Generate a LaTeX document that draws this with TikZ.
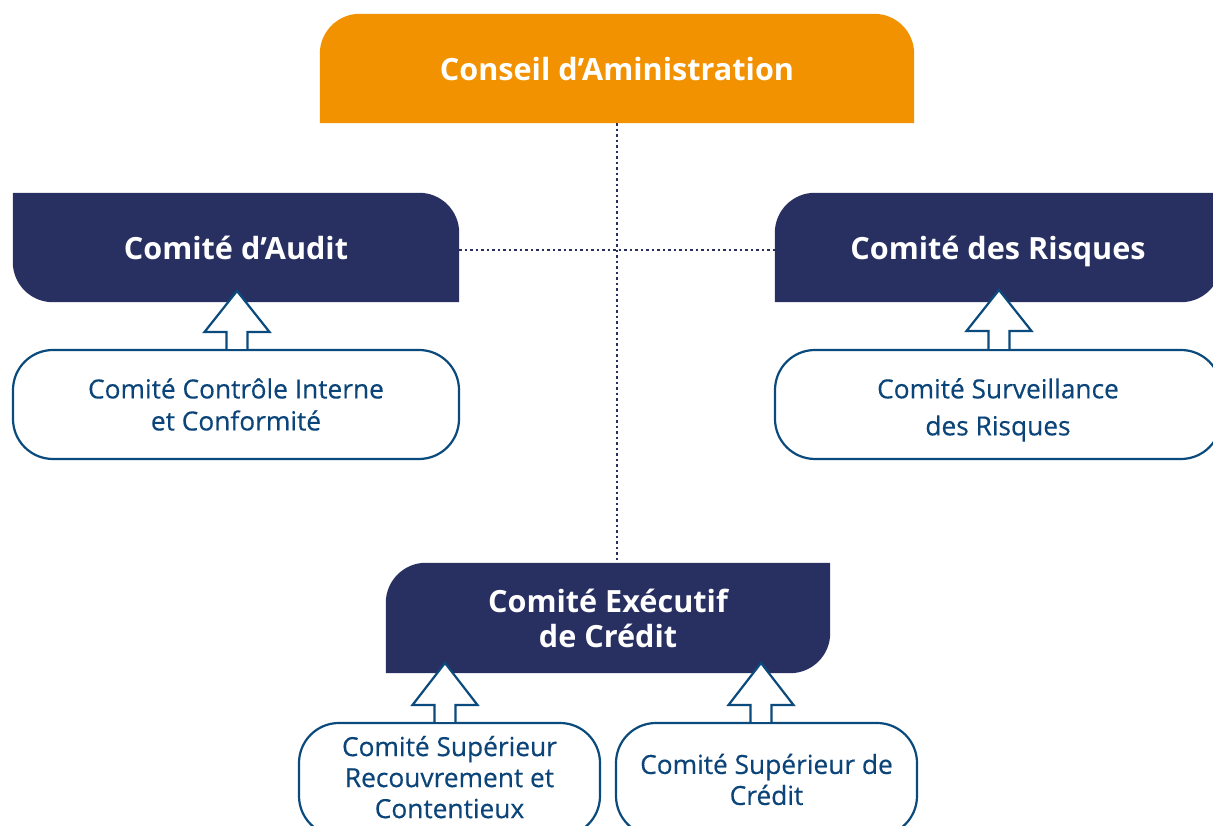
\documentclass[tikz,border=0pt]{standalone}
\usepackage{fontspec}
\setmainfont{Open Sans}
\newfontfamily\medfont{Open Sans}[FakeBold=0.35]
\usetikzlibrary{calc,backgrounds}
\definecolor{orangeC}{HTML}{F39200}
\definecolor{navyC}{HTML}{283062}
\definecolor{blueC}{HTML}{0A4A7C}
\definecolor{textC}{HTML}{0B4478}
\newcommand\Rad{40pt}
\newcommand\shapeTT[2]{\fill[#2] (#1.south west) -- ([yshift=-\Rad]#1.north west) arc[start angle=180,end angle=90,radius=\Rad] -- ([xshift=-\Rad]#1.north east) arc[start angle=90,end angle=0,radius=\Rad] -- (#1.south east) -- cycle;}
\newcommand\shapeTRBL[2]{\fill[#2] (#1.north west) -- ([xshift=-\Rad]#1.north east) arc[start angle=90,end angle=0,radius=\Rad] -- (#1.south east) -- ([xshift=\Rad]#1.south west) arc[start angle=270,end angle=180,radius=\Rad] -- cycle;}
\newcommand\shapeTLBR[2]{\fill[#2] ([yshift=-\Rad]#1.north west) arc[start angle=180,end angle=90,radius=\Rad] -- (#1.north east) -- ([yshift=\Rad]#1.south east) arc[start angle=0,end angle=-90,radius=\Rad] -- (#1.south west) -- cycle;}
\newcommand\hollowup[3]{% base, tip, head length
  \filldraw[arrowst] ($(#1)+(-10.5,0)$) -- ($(#2)+(-10.5,-#3)$) -- ($(#2)+(-32.5,-#3)$) -- (#2) -- ($(#2)+(32.5,-#3)$) -- ($(#2)+(10.5,-#3)$) -- ($(#1)+(10.5,0)$);}
\tikzset{
  x=1pt,y=1pt,
  headbox/.style={inner sep=0pt, align=center, text=white, font=\bfseries\fontsize{30.6}{35}\selectfont},
  oneline/.style={text height=25pt, text depth=0pt},
  subbox/.style={draw=blueC, line width=2.2pt, fill=white, rounded corners=40pt, inner sep=0pt, align=center, text=textC, font=\medfont\fontsize{26.3}{32}\selectfont},
  arrowst/.style={draw=blueC, fill=white, line width=2.2pt, line join=miter},
  dotline/.style={draw=navyC, line width=2.5pt, dash pattern=on 2.5pt off 3pt}
}
\begin{document}
\begin{tikzpicture}
\useasboundingbox (0,0) rectangle (1213,826);
% header nodes
\node[headbox, oneline, minimum width=594pt, minimum height=109pt] (cda) at (617,757.5) {Conseil d’Aministration};
\node[headbox, oneline, minimum width=446pt, minimum height=109pt] (audit) at (236,578.5) {Comité d’Audit};
\node[headbox, oneline, minimum width=446pt, minimum height=109pt] (risq) at (998,578.5) {Comité des Risques};
\node[headbox, minimum width=444pt, minimum height=110pt] (exec) at (608,208) {Comité Exécutif\\de Crédit};
\begin{scope}[on background layer]
\shapeTT{cda}{orangeC}
\shapeTRBL{audit}{navyC}
\shapeTLBR{risq}{navyC}
\shapeTLBR{exec}{navyC}
\end{scope}
% sub boxes
\node[subbox, minimum width=446pt, minimum height=109pt] (subA) at (236,421.5) {Comité Contrôle Interne\\et Conformité};
\node[subbox, minimum width=446pt, minimum height=109pt, font=\medfont\fontsize{26.3}{37}\selectfont] (subR) at (998,421.5) {\rule{0pt}{31pt}Comité Surveillance\\des Risques};
\node[subbox, minimum width=301pt, minimum height=113pt, font=\medfont\fontsize{26.3}{31}\selectfont] (subC1) at (449.5,46.5) {Comité Supérieur\\Recouvrement et\\Contentieux\rule[-5pt]{0pt}{5pt}};
\node[subbox, minimum width=301pt, minimum height=113pt, font=\medfont\fontsize{26.3}{31}\selectfont] (subC2) at (766.5,46.5) {Comité Supérieur de\\Crédit};
% arrow anchor coordinates
\coordinate (a1b) at (subA.north -| 237,0); \coordinate (a1t) at (237,535);
\coordinate (a2b) at (subR.north -| 999,0); \coordinate (a2t) at (999,536);
\coordinate (a3b) at (subC1.north -| 445,0); \coordinate (a3t) at (445,163);
\coordinate (a4b) at (subC2.north -| 761,0); \coordinate (a4t) at (761,163);
\hollowup{a1b}{a1t}{41}
\hollowup{a2b}{a2t}{41}
\hollowup{a3b}{a3t}{42}
\hollowup{a4b}{a4t}{42}
% dotted connectors
\draw[dotline] (cda.south) -- (cda.south |- exec.north);
\draw[dotline] ([yshift=-2.5pt]audit.east) -- ([yshift=-2.5pt]risq.west);
\end{tikzpicture}
\end{document}
